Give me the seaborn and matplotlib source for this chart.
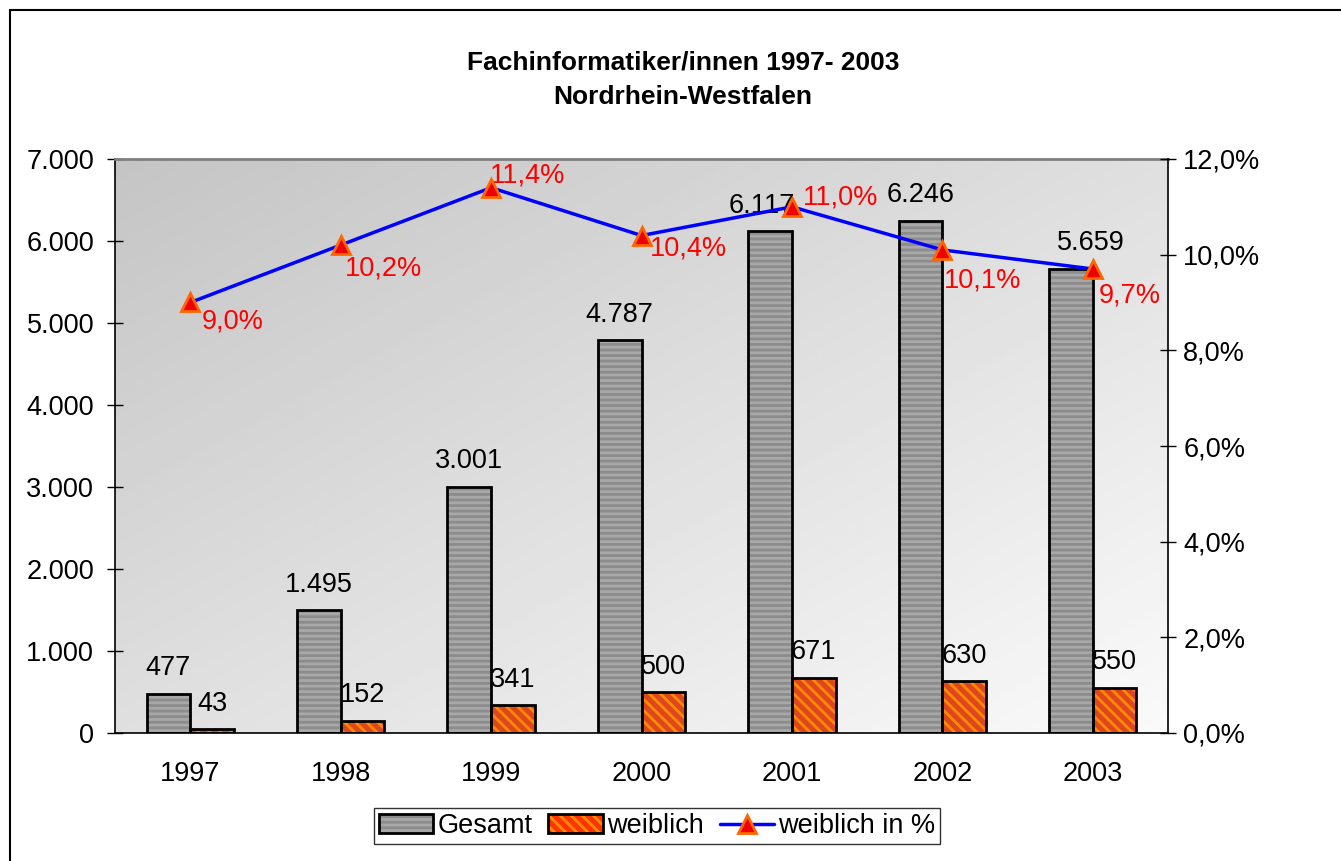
import numpy as np
import pandas as pd
import seaborn as sns
import matplotlib.pyplot as plt
from matplotlib.colors import to_rgb
from matplotlib.patches import Patch, Rectangle
from matplotlib.lines import Line2D
from matplotlib.ticker import FuncFormatter, FixedLocator

# ------------------------------- Data ----------------------------------------------

years = ["1997", "1998", "1999", "2000", "2001", "2002", "2003"]
gesamt = [477, 1495, 3001, 4787, 6117, 6246, 5659]
weiblich = [43, 152, 341, 500, 671, 630, 550]
weiblich_pct = [0.090, 0.102, 0.114, 0.104, 0.110, 0.101, 0.097]

# label offsets (points) for the percent labels and the Gesamt labels
pct_offsets = [(8, -14), (3, -17), (-1, 9), (6, -9), (8, 7), (1, -22), (4, -19)]
gesamt_dx = [0, 0, 0, 0, -6, 0, 14]

# ------------------------------- Style ----------------------------------------------

sns.set_theme(style="white")
plt.rcParams['font.family'] = ['Liberation Sans', 'DejaVu Sans']
plt.rcParams['hatch.linewidth'] = 2.0
plt.rcParams['text.color'] = "black"
plt.rcParams['xtick.color'] = "black"
plt.rcParams['ytick.color'] = "black"

FS = 19.5
GRAY = "#8c8c8c"
GRAY_STRIPE = "#a8a8a8"
RED = "#ff3300"
RED_STRIPE = "#ff8c00"

fig = plt.figure(figsize=(13.41, 8.61), dpi=100)
ax = fig.add_axes([115 / 1341, 1 - 733 / 861, (1168 - 115) / 1341, (733 - 159) / 861])

# gradient background of the plot area
gx, gy = np.meshgrid(np.linspace(0, 1, 200), np.linspace(1, 0, 200))
grad = 0.77 + 0.21 * (gx + (1 - gy)) / 2
ax.imshow(grad, cmap="gray", vmin=0, vmax=1, extent=[0, 1, 0, 1],
          transform=ax.transAxes, aspect="auto", zorder=0, interpolation="bilinear")

df = pd.DataFrame({
    "Jahr": years * 2,
    "Anzahl": gesamt + weiblich,
    "Serie": ["Gesamt"] * len(years) + ["weiblich"] * len(years),
})
sns.barplot(data=df, x="Jahr", y="Anzahl", hue="Serie", order=years,
            palette={"Gesamt": GRAY, "weiblich": RED}, width=0.58, gap=0,
            legend=False, ax=ax, zorder=2)

# hatch stripes + black edges on the bars
for bar in list(ax.patches):
    is_gray = np.allclose(bar.get_facecolor()[:3], to_rgb(GRAY))
    bar.set_hatch('---' if is_gray else '\\\\\\')
    bar.set_edgecolor(GRAY_STRIPE if is_gray else RED_STRIPE)
    bar.set_linewidth(0)
    ax.add_patch(Rectangle(bar.get_xy(), bar.get_width(), bar.get_height(),
                           fill=False, edgecolor="black", linewidth=2, zorder=3))

# value labels above the bars
bars = [p for p in ax.patches if p.get_hatch()]
gray_bars = [b for b in bars if b.get_hatch() == '---']
red_bars = [b for b in bars if b.get_hatch() != '---']
for bar, dx in zip(gray_bars, gesamt_dx):
    h = bar.get_height()
    ax.annotate(f"{h:,.0f}".replace(",", "."), (bar.get_x() + bar.get_width() / 2, h),
                xytext=(dx, 9), textcoords="offset points", ha="center", va="bottom",
                fontsize=FS, zorder=5)
for bar in red_bars:
    h = bar.get_height()
    ax.annotate(f"{h:,.0f}".replace(",", "."), (bar.get_x() + bar.get_width() / 2, h),
                xytext=(0, 9), textcoords="offset points", ha="center", va="bottom",
                fontsize=FS, zorder=5)

ax.set_xlim(-0.5, len(years) - 0.5)
ax.set_ylim(0, 7000)
ax.set_xlabel("")
ax.set_ylabel("")
ax.yaxis.set_major_locator(FixedLocator(np.arange(0, 7001, 1000)))
ax.yaxis.set_major_formatter(FuncFormatter(lambda v, p: f"{v:,.0f}".replace(",", ".")))
ax.xaxis.set_minor_locator(FixedLocator(np.arange(-0.5, len(years), 1)))
ax.tick_params(axis="x", which="major", length=0, pad=20, labelsize=FS)
ax.tick_params(axis="x", which="minor", length=12, width=1, direction="inout")
ax.tick_params(axis="y", length=12, width=1, direction="inout", pad=9, labelsize=FS,
               left=True)
for side in ["left", "bottom"]:
    ax.spines[side].set_color("black")
    ax.spines[side].set_linewidth(1.2)
ax.spines["top"].set_color("#808080")
ax.spines["top"].set_linewidth(2)
ax.spines["right"].set_visible(False)

# percent line on the secondary axis
ax2 = ax.twinx()
sns.lineplot(x=np.arange(len(years)), y=weiblich_pct, ax=ax2, color="#0000ff",
             linewidth=2.5, marker="^", markersize=13, markerfacecolor="#ee0000",
             markeredgecolor="#ff6600", markeredgewidth=2, zorder=4)
for i, (v, off) in enumerate(zip(weiblich_pct, pct_offsets)):
    ax2.annotate(f"{v * 100:.1f}%".replace(".", ","), (i, v), xytext=off,
                 textcoords="offset points", ha="left", va="center",
                 fontsize=FS, color="#ff0000")
ax2.set_ylim(0, 0.12)
ax2.set_xlim(-0.5, len(years) - 0.5)
ax2.yaxis.set_major_locator(FixedLocator(np.arange(0, 0.1201, 0.02)))
ax2.yaxis.set_major_formatter(FuncFormatter(lambda v, p: f"{v * 100:.1f}%".replace(".", ",")))
ax2.tick_params(axis="y", length=12, width=1, direction="inout", pad=5, labelsize=FS,
                right=True)
for side in ["left", "top", "bottom"]:
    ax2.spines[side].set_visible(False)
ax2.spines["right"].set_color("black")
ax2.spines["right"].set_linewidth(1.2)

# title
fig.text(683 / 1341, 1 - 62 / 861, "Fachinformatiker/innen 1997- 2003", ha="center",
         va="center", fontsize=19, fontweight="bold")
fig.text(683 / 1341, 1 - 97 / 861, "Nordrhein-Westfalen", ha="center",
         va="center", fontsize=19, fontweight="bold")

# legend
h_gesamt = (Patch(facecolor=GRAY, edgecolor=GRAY_STRIPE, hatch='---', linewidth=0),
            Patch(fill=False, edgecolor="black", linewidth=2))
h_weib = (Patch(facecolor=RED, edgecolor=RED_STRIPE, hatch='\\\\\\', linewidth=0),
          Patch(fill=False, edgecolor="black", linewidth=2))
h_line = Line2D([], [], color="#0000ff", linewidth=2.5, marker="^", markersize=13,
                markerfacecolor="#ee0000", markeredgecolor="#ff6600", markeredgewidth=2)
leg = fig.legend([h_gesamt, h_weib, h_line], ["Gesamt", "weiblich", "weiblich in %"],
                 loc="center", bbox_to_anchor=(657 / 1341, 1 - 826 / 861), ncol=3,
                 fontsize=FS, frameon=True, fancybox=False, handlelength=2.0,
                 handleheight=0.7, handletextpad=0.15, columnspacing=0.6,
                 borderpad=0.2, borderaxespad=0)
leg.get_frame().set_edgecolor("black")
leg.get_frame().set_linewidth(1)

# outer chart frame
fig.add_artist(Line2D([10 / 1341, 10 / 1341], [0, 1 - 10 / 861], color="black", linewidth=1.5))
fig.add_artist(Line2D([10 / 1341, 1], [1 - 10 / 861, 1 - 10 / 861], color="black", linewidth=1.5))

plt.savefig("out.png", dpi=100)
